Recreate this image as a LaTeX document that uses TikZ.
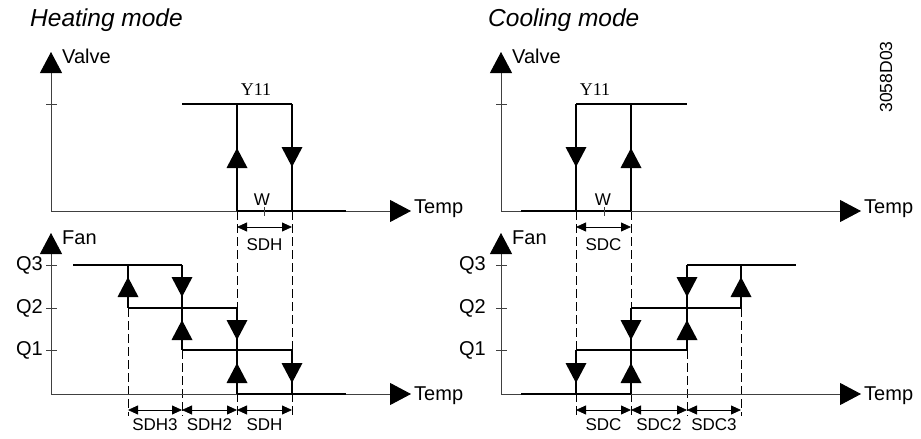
\documentclass[tikz,border=0pt]{standalone}
\usepackage{fontspec}
\setmainfont{Liberation Sans}
\newfontfamily\tagfont{Liberation Serif}
\usetikzlibrary{arrows.meta}

\begin{document}
\begin{tikzpicture}
        [x=1pt, y=-1pt,
        axis/.style ={draw=black!75, line width=0.9pt,
        -{Triangle[length=21pt,width=22pt,black]}},
        axistick/.style ={draw=black!75, line width=0.9pt},
        heavy/.style ={draw, line width=2pt},
        stair/.style ={draw, line width=1.2pt},
        guide/.style ={draw, line width=0.8pt, dash pattern=on 9pt off 4pt},
        dimline/.style ={draw, line width=0.8pt,
        {Triangle[length=10pt,width=9pt]}-{Triangle[length=10pt,width=9pt]}},
        lbl/.style ={font=\fontsize{20}{23}\selectfont, inner sep=0pt},
        dimlbl/.style ={font=\fontsize{17}{20}\selectfont, inner sep=0pt},
        modetitle/.style ={font=\fontsize{24.5}{28}\selectfont\itshape, inner sep=0pt},
        upmark/.pic ={\fill (0,-10) -- (10.5,10) -- (-10.5,10) -- cycle;},
        downmark/.pic ={\fill (0,10) -- (10.5,-10) -- (-10.5,-10) -- cycle;}]
        \useasboundingbox (0,0) rectangle (921,439);

        % dashed guides
        \path[guide] (128,308) -- (128,416);
        \path[guide] (182,350) -- (182,416);
        \path[guide] (237,211) -- (237,416);
        \path[guide] (292,211) -- (292,416);
        \path[guide] (576,211) -- (576,416);
        \path[guide] (631,211) -- (631,416);
        \path[guide] (687,350) -- (687,416);
        \path[guide] (741,308) -- (741,416);

        % axes of both panels
        \foreach \dx/\pname/\qx in {0/heat/43, 450/cool/36} {
            \begin{scope}[xshift=\dx]
                \path[axis] (51,211) -- (51,52);
                \path[axis] (51,211) -- (411,211);
                \path[axis] (51,394) -- (51,233);
                \path[axis] (51,394) -- (411,394);
                \path[axistick] (46,104) -- (57,104);
                \node[lbl, anchor=base west] (\pname-valve) at (62,63) {Valve};
                \node[lbl, anchor=base west] (\pname-fan) at (62,244) {Fan};
                \node[lbl, anchor=base west] (\pname-temp1) at (414,213) {Temp};
                \node[lbl, anchor=base west] (\pname-temp2) at (414,400) {Temp};
                \foreach \q/\y in {3/265, 2/308, 1/350} {
                    \path[axistick] (46,\y) -- (57,\y);
                    \node[lbl, anchor=east] (\pname-q\q) at (\qx,\y) {Q\q};
                }
            \end{scope}
        }

        \node[modetitle, anchor=base west] (heat-title) at (30,27) {Heating mode};
        \node[modetitle, anchor=base west] (cool-title) at (488,27) {Cooling mode};
        \node[font=\fontsize{17.5}{20}\selectfont, rotate=90, inner sep=0pt] (docid) at (886,77) {3058D03};

        % heating, valve
        \node[font=\tagfont\fontsize{18}{20}\selectfont, anchor=base, inner sep=0pt] (heat-y11) at (256,95) {Y11};
        \path[stair] (182,104) -- (292,104);
        \path[heavy] (237,211) -- (237,104);
        \path[heavy] (292,104) -- (292,211);
        \path[heavy] (237,211) -- (346,211);
        \pic at (237,158) {upmark};
        \pic at (292,157) {downmark};
        \path[axistick] (264,207) -- (264,216);
        \node[font=\fontsize{17}{19}\selectfont, anchor=base, inner sep=0pt] (heat-w) at (262,205) {W};
        \path[dimline] (237,227) -- node[dimlbl, below=11pt] (heat-sd) {SDH} (292,227);

        % heating, fan
        \path[heavy] (73,265) -- (182,265);
        \path[heavy] (128,265) -- (128,308);
        \path[stair] (128,308) -- (237,308);
        \path[heavy] (182,265) -- (182,350);
        \path[stair] (182,350) -- (292,350);
        \path[heavy] (237,308) -- (237,394);
        \path[heavy] (292,350) -- (292,394);
        \path[heavy] (237,394) -- (346,394);
        \pic at (128,287) {upmark};
        \pic at (182,287) {downmark};
        \pic at (182,330) {upmark};
        \pic at (237,330) {downmark};
        \pic at (237,373) {upmark};
        \pic at (292,373) {downmark};

        % cooling, valve
        \node[font=\tagfont\fontsize{18}{20}\selectfont, anchor=base, inner sep=0pt] (cool-y11) at (595,95) {Y11};
        \path[heavy] (576,211) -- (576,104);
        \path[stair] (576,104) -- (687,104);
        \path[heavy] (631,104) -- (631,211);
        \path[heavy] (521,211) -- (631,211);
        \pic at (576,157) {downmark};
        \pic at (631,158) {upmark};
        \path[axistick] (604,207) -- (604,216);
        \node[font=\fontsize{17}{19}\selectfont, anchor=base, inner sep=0pt] (cool-w) at (603,205) {W};
        \path[dimline] (576,227) -- node[dimlbl, below=11pt] (cool-sd) {SDC} (631,227);

        % cooling, fan
        \path[heavy] (521,394) -- (631,394);
        \path[heavy] (576,394) -- (576,350);
        \path[stair] (576,350) -- (687,350);
        \path[heavy] (631,394) -- (631,308);
        \path[stair] (631,308) -- (741,308);
        \path[heavy] (687,350) -- (687,265);
        \path[heavy] (687,265) -- (796,265);
        \path[heavy] (741,308) -- (741,265);
        \pic at (576,373) {downmark};
        \pic at (631,373) {upmark};
        \pic at (631,330) {downmark};
        \pic at (687,330) {upmark};
        \pic at (687,287) {downmark};
        \pic at (741,287) {upmark};

        % switching differentials
        \foreach \a/\b/\t in {128/182/SDH3, 182/237/SDH2, 237/292/SDH,
                              576/631/SDC, 631/687/SDC2, 687/741/SDC3}
            \path[dimline] (\a,410) -- node[dimlbl, below=8pt] (dim-\t) {\t} (\b,410);
    \end{tikzpicture}
\end{document}
